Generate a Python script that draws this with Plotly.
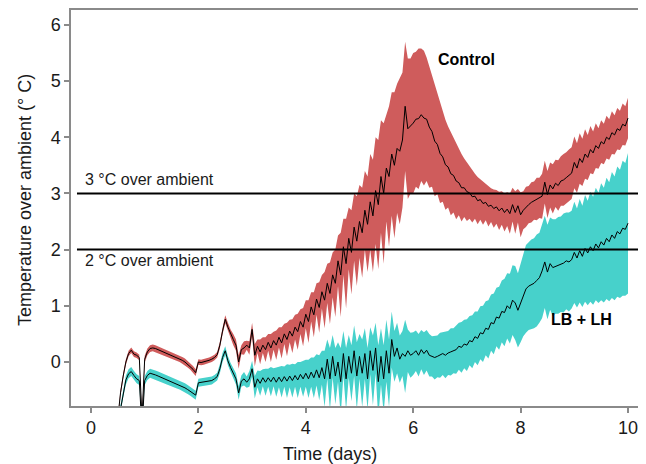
import plotly.graph_objects as go

# sampling grid: 0.50 .. 10.00 days every 0.05 day
# ---------------- Control (red) ----------------
red_mean = [
    # 0.50-0.95
    -1.0, -0.55, -0.25, 0.0, 0.15, 0.21, 0.14, 0.12, 0.08, -1.0,
    # 1.00-1.95
    0.05, 0.18, 0.24, 0.25, 0.24, 0.22, 0.20, 0.18, 0.16, 0.14,
    0.12, 0.10, 0.08, 0.06, 0.03, 0.00, -0.04, -0.08, -0.13, -0.19,
    # 2.00-2.95
    0.00, -0.01, 0.00, 0.01, 0.03, 0.05, 0.08, 0.13, 0.30, 0.55,
    0.76, 0.62, 0.50, 0.40, 0.30, 0.00, 0.22, 0.25, 0.30, 0.25,
    # 3.00-3.95
    0.58, 0.12, 0.28, 0.18, 0.30, 0.22, 0.35, 0.25, 0.38, 0.30,
    0.44, 0.34, 0.50, 0.40, 0.55, 0.46, 0.62, 0.54, 0.72, 0.62,
    # 4.00-4.95
    0.85, 0.72, 0.98, 0.84, 1.12, 0.97, 1.25, 1.10, 1.40, 1.22,
    1.55, 1.40, 1.80, 1.55, 2.05, 1.75, 2.20, 1.95, 2.40, 2.15,
    # 5.00-5.95
    2.50, 2.30, 2.70, 2.45, 2.85, 2.60, 3.05, 2.80, 3.30, 3.00,
    3.45, 3.30, 3.70, 3.50, 3.80, 3.75, 3.95, 4.55, 4.15, 4.20,
    # 6.00-6.95
    4.25, 4.32, 4.33, 4.40, 4.34, 4.32, 4.18, 4.10, 3.93, 3.87,
    3.71, 3.65, 3.51, 3.47, 3.35, 3.32, 3.22, 3.19, 3.10, 3.10,
    # 7.00-7.95
    3.03, 3.01, 2.94, 2.95, 2.87, 2.89, 2.82, 2.84, 2.77, 2.79,
    2.73, 2.76, 2.69, 2.74, 2.66, 2.72, 2.64, 2.80, 2.66, 2.78,
    # 8.00-8.95
    2.62, 2.70, 2.76, 2.80, 2.84, 2.87, 2.90, 2.92, 2.95, 3.20,
    2.98, 3.15, 3.08, 3.18, 3.14, 3.22, 3.24, 3.28, 3.32, 3.36,
    # 9.00-9.95
    3.55, 3.45, 3.62, 3.55, 3.70, 3.64, 3.78, 3.72, 3.85, 3.80,
    3.92, 3.88, 4.00, 3.96, 4.08, 4.04, 4.15, 4.12, 4.23, 4.20,
    # 10.00
    4.34,
]
red_sd = [
    0.05, 0.05, 0.05, 0.05, 0.05, 0.05, 0.05, 0.05, 0.05, 0.05,
    0.06, 0.06, 0.06, 0.06, 0.06, 0.06, 0.06, 0.06, 0.06, 0.06,
    0.06, 0.06, 0.06, 0.06, 0.06, 0.06, 0.06, 0.06, 0.06, 0.06,
    0.05, 0.05, 0.05, 0.05, 0.05, 0.05, 0.05, 0.05, 0.06, 0.06,
    0.07, 0.08, 0.08, 0.10, 0.10, 0.12, 0.08, 0.12, 0.08, 0.12,
    0.12, 0.20, 0.12, 0.22, 0.14, 0.22, 0.15, 0.25, 0.16, 0.26,
    0.18, 0.28, 0.18, 0.30, 0.20, 0.30, 0.22, 0.32, 0.22, 0.34,
    0.25, 0.38, 0.26, 0.40, 0.28, 0.45, 0.30, 0.50, 0.35, 0.55,
    0.40, 0.60, 0.45, 0.75, 0.50, 0.80, 0.55, 0.75, 0.60, 0.80,
    0.65, 0.80, 0.70, 0.85, 0.85, 1.00, 0.95, 1.15, 1.00, 1.25,
    0.95, 1.25, 1.10, 1.30, 1.15, 1.30, 1.20, 1.15, 1.25, 1.20,
    1.25, 1.20, 1.25, 1.18, 1.20, 1.10, 1.08, 0.98, 0.98, 0.88,
    0.88, 0.80, 0.80, 0.72, 0.74, 0.66, 0.68, 0.58, 0.60, 0.52,
    0.52, 0.46, 0.46, 0.40, 0.42, 0.36, 0.38, 0.32, 0.36, 0.30,
    0.34, 0.30, 0.34, 0.30, 0.34, 0.30, 0.36, 0.30, 0.38, 0.30,
    0.40, 0.34, 0.36, 0.33, 0.36, 0.34, 0.38, 0.36, 0.40, 0.38,
    0.42, 0.40, 0.44, 0.42, 0.45, 0.44, 0.46, 0.45, 0.46, 0.46,
    0.46, 0.44, 0.45, 0.42, 0.44, 0.40, 0.42, 0.38, 0.40, 0.36,
    0.38, 0.36, 0.38, 0.36, 0.38, 0.35, 0.37, 0.35, 0.37, 0.35,
    0.36,
]
# ---------------- LB + LH (cyan) ----------------
cyan_mean = [
    -1.1, -0.85, -0.55, -0.32, -0.21, -0.17, -0.24, -0.30, -0.33, -1.2,
    -0.33, -0.24, -0.20, -0.21, -0.23, -0.25, -0.27, -0.29, -0.31, -0.33,
    -0.35, -0.37, -0.39, -0.41, -0.44, -0.46, -0.49, -0.52, -0.55, -0.59,
    -0.37, -0.36, -0.35, -0.35, -0.34, -0.33, -0.30, -0.26, -0.12, 0.08,
    0.20, 0.02, -0.10, -0.20, -0.30, -0.55, -0.34, -0.30, -0.36, -0.30,
    -0.12, -0.45, -0.30, -0.38, -0.28, -0.36, -0.28, -0.35, -0.27, -0.36,
    -0.27, -0.35, -0.26, -0.34, -0.25, -0.33, -0.24, -0.32, -0.22, -0.30,
    -0.20, -0.30, -0.18, -0.28, -0.14, -0.28, -0.10, -0.30, 0.05, -0.30,
    0.10, -0.25, 0.00, -0.35, 0.15, -0.30, 0.10, -0.20, 0.20, -0.25,
    0.10, -0.20, 0.15, -0.30, 0.20, -0.15, 0.25, -0.35, 0.10, -0.30,
    0.20, -0.20, 0.40, 0.10, 0.25, 0.05, 0.15, 0.10, 0.20, 0.12,
    0.15, 0.20, 0.12, 0.22, 0.15, 0.21, 0.12, 0.10, 0.08, 0.10,
    0.12, 0.15, 0.12, 0.16, 0.18, 0.20, 0.22, 0.28, 0.26, 0.32,
    0.30, 0.38, 0.36, 0.45, 0.42, 0.52, 0.50, 0.60, 0.58, 0.70,
    0.68, 0.80, 0.78, 0.90, 0.88, 1.00, 0.95, 1.10, 1.05, 0.92,
    1.05, 1.20, 1.30, 1.35, 1.38, 1.40, 1.45, 1.50, 1.62, 1.78,
    1.60, 1.75, 1.68, 1.70, 1.72, 1.74, 1.76, 1.80, 1.78, 1.82,
    1.95, 1.85, 1.98, 1.88, 2.02, 1.94, 2.05, 1.98, 2.10, 2.03,
    2.14, 2.08, 2.20, 2.14, 2.26, 2.20, 2.32, 2.28, 2.38, 2.36,
    2.47,
]
cyan_sd = [
    0.08, 0.08, 0.08, 0.08, 0.08, 0.08, 0.08, 0.08, 0.08, 0.08,
    0.08, 0.08, 0.08, 0.08, 0.08, 0.08, 0.08, 0.08, 0.08, 0.08,
    0.08, 0.08, 0.08, 0.08, 0.08, 0.08, 0.08, 0.08, 0.08, 0.08,
    0.07, 0.07, 0.07, 0.07, 0.07, 0.07, 0.07, 0.07, 0.08, 0.08,
    0.08, 0.08, 0.08, 0.10, 0.10, 0.12, 0.10, 0.12, 0.10, 0.14,
    0.14, 0.20, 0.15, 0.22, 0.15, 0.24, 0.16, 0.26, 0.16, 0.26,
    0.18, 0.28, 0.18, 0.30, 0.20, 0.30, 0.20, 0.32, 0.22, 0.32,
    0.24, 0.34, 0.26, 0.36, 0.28, 0.40, 0.30, 0.50, 0.35, 0.55,
    0.38, 0.50, 0.35, 0.60, 0.40, 0.55, 0.38, 0.50, 0.45, 0.60,
    0.40, 0.60, 0.45, 0.55, 0.42, 0.62, 0.45, 0.65, 0.50, 0.60,
    0.55, 0.60, 0.50, 0.45, 0.45, 0.42, 0.40, 0.65, 0.38, 0.40,
    0.38, 0.36, 0.38, 0.35, 0.38, 0.36, 0.38, 0.36, 0.39, 0.37,
    0.40, 0.38, 0.41, 0.39, 0.42, 0.40, 0.43, 0.42, 0.45, 0.43,
    0.46, 0.44, 0.47, 0.45, 0.48, 0.47, 0.50, 0.48, 0.52, 0.50,
    0.54, 0.52, 0.56, 0.55, 0.60, 0.58, 0.62, 0.62, 0.66, 0.66,
    0.70, 0.74, 0.78, 0.78, 0.80, 0.80, 0.82, 0.80, 0.84, 0.82,
    0.84, 0.82, 0.86, 0.84, 0.86, 0.85, 0.88, 0.86, 0.88, 0.87,
    0.90, 0.88, 0.92, 0.90, 0.95, 0.93, 0.98, 0.96, 1.00, 0.98,
    1.04, 1.02, 1.08, 1.06, 1.12, 1.10, 1.16, 1.14, 1.20, 1.18,
    1.25,
]

n = min(len(red_mean), len(red_sd), len(cyan_mean), len(cyan_sd))
days = [round(0.5 + 0.05 * i, 2) for i in range(n)]

thresholds = [3, 2]
threshold_labels = ["3 °C over ambient", "2 °C over ambient"]
x_ticks = [0, 2, 4, 6, 8, 10]
y_ticks = [0, 1, 2, 3, 4, 5, 6]

RED = "#CF5C5C"
CYAN = "#47D1CB"

fig = go.Figure()


def band(mean, sd, color, name):
    up = [m + s for m, s in zip(mean[:n], sd[:n])]
    lo = [m - s for m, s in zip(mean[:n], sd[:n])]
    fig.add_trace(go.Scatter(
        x=days + days[::-1], y=up + lo[::-1], fill="toself",
        fillcolor=color, line=dict(width=0), mode="lines",
        hoverinfo="skip", showlegend=False, name=name))


band(cyan_mean, cyan_sd, CYAN, "LB + LH")
band(red_mean, red_sd, RED, "Control")
for mean, name in [(cyan_mean, "LB + LH"), (red_mean, "Control")]:
    fig.add_trace(go.Scatter(x=days, y=mean[:n], mode="lines",
                             line=dict(color="black", width=1),
                             showlegend=False, name=name))

for t in thresholds:
    fig.add_shape(type="line", xref="paper", yref="y", x0=0.0104, x1=0.99,
                  y0=t, y1=t, line=dict(color="black", width=2),
                  layer="above")

fig.add_annotation(x=-0.15, y=3.24, text=threshold_labels[0], showarrow=False,
                   xanchor="left", yanchor="middle",
                   font=dict(size=16, color="#1a1a1a"))
fig.add_annotation(x=-0.15, y=1.80, text=threshold_labels[1], showarrow=False,
                   xanchor="left", yanchor="middle",
                   font=dict(size=16, color="#1a1a1a"))
fig.add_annotation(x=7.0, y=5.39, text="<b>Control</b>", showarrow=False,
                   font=dict(size=16, color="black"))
fig.add_annotation(x=9.14, y=0.76, text="<b>LB + LH</b>", showarrow=False,
                   font=dict(size=16, color="black"))

# axis titles
fig.add_annotation(xref="paper", yref="paper", x=0.45, y=-0.121,
                   text="Time (days)", showarrow=False,
                   xanchor="center", yanchor="middle",
                   font=dict(size=18, color="#1a1a1a"))
fig.add_annotation(xref="paper", yref="paper", x=-0.08, y=0.52,
                   text="Temperature over ambient (° C)", showarrow=False,
                   textangle=-90, xanchor="center", yanchor="middle",
                   font=dict(size=18, color="#1a1a1a"))

axis_common = dict(showline=True, linecolor="#8a8a8a", linewidth=1.5,
                   ticks="outside", ticklen=5, tickcolor="#8a8a8a",
                   tickwidth=1.5, showgrid=False, zeroline=False,
                   automargin=False,
                   tickfont=dict(size=18, color="#1a1a1a"))

# the page body adds an 8px offset, so the figure is 8px smaller
fig.update_layout(
    width=638, height=456,
    margin=dict(l=63, r=0, t=2, b=58, autoexpand=False),
    paper_bgcolor="white", plot_bgcolor="white",
    font=dict(family="Liberation Sans, Arial, sans-serif", color="#1a1a1a"),
    xaxis=dict(range=[-0.372, 10.335], tickvals=x_ticks, mirror=True,
               **axis_common),
    yaxis=dict(range=[-0.783, 6.263], tickvals=y_ticks,
               **axis_common),
)

fig.write_html("out.html")
